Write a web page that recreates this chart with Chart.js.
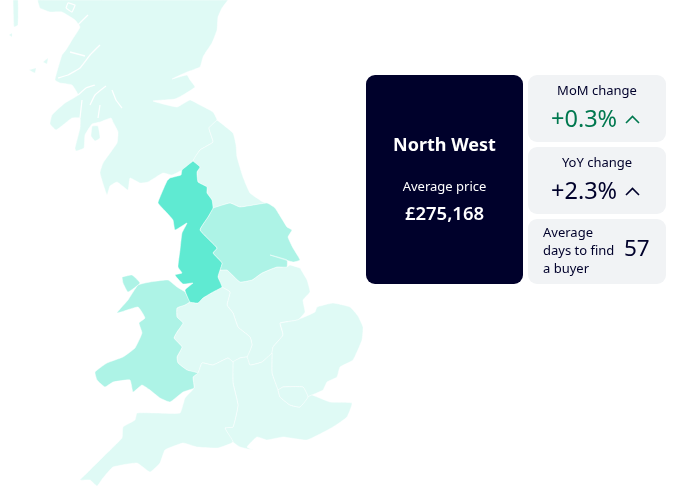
<!DOCTYPE html>
<html><head><meta charset="utf-8">
<script src="https://cdn.jsdelivr.net/npm/chart.js@4"></script>
<style>
html,body{margin:0;padding:0;width:698px;height:504px;overflow:hidden;background:#fff;font-family:"Noto Sans",sans-serif;color:#00012b}
canvas{position:absolute;left:0;top:0}
.card{position:absolute;border-radius:9px;background:#f1f3f5}
.dark{background:#00012b;color:#fff}
.t{position:absolute;left:0;right:0;text-align:center;white-space:nowrap}
svg{position:absolute}
</style></head><body>
<canvas id="c" width="698" height="504"></canvas>
<div class="card dark" style="left:366px;top:75px;width:157px;height:209px">
 <div class="t" style="top:56px;font-size:18px;font-weight:700;line-height:26px">North West</div>
 <div class="t" style="top:102px;font-size:13px;line-height:18px">Average price</div>
 <div class="t" style="top:126px;font-size:18.5px;font-weight:600;line-height:24px">£275,168</div>
</div>
<div class="card" style="left:528px;top:75px;width:138px;height:67px">
 <div class="t" style="top:6px;font-size:13px;line-height:18px">MoM change</div>
 <div class="t" style="top:27px;left:23px;right:auto;font-size:23.5px;line-height:32px;color:#00784f">+0.3%</div>
 <svg style="left:97px;top:39px" width="15" height="10"><path d="M1 9 L7.5 2.5 L14 9" fill="none" stroke="#00784f" stroke-width="1.6"/></svg>
</div>
<div class="card" style="left:528px;top:147px;width:138px;height:67px">
 <div class="t" style="top:6px;font-size:13px;line-height:18px">YoY change</div>
 <div class="t" style="top:27px;left:23px;right:auto;font-size:23.5px;line-height:32px">+2.3%</div>
 <svg style="left:97px;top:39px" width="15" height="10"><path d="M1 9 L7.5 2.5 L14 9" fill="none" stroke="#00012b" stroke-width="1.6"/></svg>
</div>
<div class="card" style="left:528px;top:219px;width:138px;height:65px">
 <div class="t" style="top:4px;left:15px;right:auto;text-align:left;font-size:13px;line-height:18px">Average<br>days to find<br>a buyer</div>
 <div class="t" style="top:13px;left:96px;right:auto;font-size:22.5px;line-height:32px">57</div>
</div>
<script>
const shadeLight="#dffaf5", shadeMid="#adf3e6", shadeDark="#5fead2";
const scotland=[[228,0],[222,8],[218,17],[217,30],[212,43],[206,52],[203,57],[200,67],[187,72],[172,79],[187,75],[190,80],[195,87],[183,95],[175,99],[153,101],[177,107],[190,100],[200,105],[213,112],[217,120],[209,128],[213,142],[200,150],[193,161],[182,170],[172,175],[163,173],[148,182],[140,183],[130,178],[128,190],[117,182],[110,186],[107,195],[100,173],[103,163],[117,143],[118,132],[113,122],[111,118],[100,122],[92,124],[85,135],[84,148],[76,151],[75,148],[80,128],[80,118],[72,118],[63,125],[56,130],[50,124],[52,115],[65,103],[78,95],[72,85],[60,83],[55,80],[58,68],[62,55],[66,50],[72,40],[80,27],[75,20],[62,12],[50,12],[40,8],[38,0]];
const northEast=[[217,120],[233,133],[236,145],[237,157],[243,177],[250,193],[263,202],[267,203],[240,207],[230,203],[213,208],[212,200],[207,193],[207,187],[198,182],[197,172],[200,167],[193,161],[200,150],[213,142],[209,128]];
const northWest=[[193,161],[182,170],[181,175],[170,178],[167,181],[160,197],[158,203],[167,213],[173,220],[175,230],[187,223],[182,233],[180,250],[178,267],[182,273],[175,275],[183,284],[193,283],[185,290],[190,302],[198,303],[203,298],[213,292],[222,287],[218,277],[220,270],[222,263],[213,253],[217,248],[200,230],[208,217],[213,208],[212,200],[207,193],[207,187],[198,182],[197,172],[200,167]];
const yorkshire=[[213,208],[230,203],[240,207],[267,203],[275,208],[287,227],[292,230],[288,237],[293,248],[300,260],[293,262],[270,255],[287,260],[287,267],[277,267],[262,273],[252,280],[240,282],[227,270],[220,270],[222,263],[213,253],[217,248],[200,230],[208,217]];
const eastMidlands=[[300,268],[307,280],[310,292],[303,300],[305,312],[298,320],[280,323],[283,335],[273,347],[272,353],[262,362],[250,365],[247,357],[252,345],[250,337],[238,327],[233,313],[227,305],[230,292],[222,287],[218,277],[220,270],[227,270],[240,282],[252,280],[262,273],[277,267],[287,267],[290,265]];
const westMidlands=[[222,287],[230,292],[227,305],[233,313],[238,327],[250,337],[252,345],[247,357],[240,358],[233,362],[228,358],[213,365],[202,363],[198,373],[187,370],[178,363],[177,357],[182,347],[174,338],[177,332],[183,323],[177,317],[177,308],[185,305],[190,302],[198,303],[203,298],[213,292]];
const wales=[[190,302],[185,305],[177,308],[177,317],[183,323],[177,332],[174,338],[182,347],[177,357],[178,363],[187,370],[198,373],[193,377],[194,388],[183,392],[170,402],[160,398],[150,390],[142,385],[133,392],[130,380],[113,382],[105,387],[97,380],[95,372],[107,363],[123,357],[135,348],[142,333],[139,323],[145,318],[138,307],[117,313],[128,300],[138,285],[150,282],[168,280],[177,287],[185,292]];
const anglesey=[[122,277],[132,275],[140,283],[128,292],[123,283]];
const eastEngland=[[280,323],[297,320],[315,312],[317,307],[333,303],[350,307],[358,316],[363,327],[362,340],[353,360],[340,367],[337,377],[327,382],[323,390],[312,395],[308,397],[303,387],[283,387],[278,390],[272,373],[272,353],[273,347],[283,335]];
const london=[[278,390],[283,387],[303,387],[308,397],[300,407],[290,405],[280,397]];
const southEast=[[272,353],[272,373],[278,390],[280,397],[290,405],[300,407],[308,397],[312,395],[330,402],[352,403],[347,417],[333,427],[307,440],[283,437],[267,440],[257,437],[247,447],[253,450],[240,447],[233,442],[225,428],[233,427],[238,405],[233,383],[233,362],[240,358],[247,357],[250,365],[262,362]];
const southWest=[[233,362],[233,383],[238,405],[233,427],[225,428],[233,442],[218,448],[197,447],[183,443],[165,450],[160,463],[150,472],[137,463],[113,467],[103,478],[97,486],[90,480],[80,480],[87,473],[103,457],[122,438],[123,427],[135,420],[137,413],[157,413],[180,413],[185,398],[194,388],[193,377],[198,373],[202,363],[213,365],[228,358]];
const islandA=[[13,0],[18,0],[18,25],[14,27]];
const islandB=[[9,35],[12,33],[12,37]];
const islandC=[[43,62],[48,58],[47,64]];
const islandD=[[29,70],[36,68],[35,73]];
const arran=[[92,126],[98,126],[100,138],[95,141],[91,136]];
const lochs=[
 [[100,45],[90,55],[80,68],[68,75],[58,78]],
 [[88,15],[78,25],[73,35]],
 [[70,52],[85,56]],
 [[106,86],[95,95],[90,105]],
 [[112,90],[116,100],[122,108]],
 [[100,105],[98,118]],
 [[82,100],[80,118]],
 [[66,8],[72,12],[75,5],[68,3],[66,8]],
 [[78,95],[86,88],[95,85]]
];
const shapes=[[northWest,shadeDark],[anglesey,shadeMid],[wales,shadeMid],[yorkshire,shadeMid],[london,shadeLight],[southWest,shadeLight],[southEast,shadeLight],[eastEngland,shadeLight],[westMidlands,shadeLight],[eastMidlands,shadeLight],[northEast,shadeLight],[arran,shadeLight],[islandD,shadeLight],[islandC,shadeLight],[islandB,shadeLight],[islandA,shadeLight],[scotland,shadeLight]];
const toPoints=pts=>pts.map(p=>({x:p[0],y:p[1]}));
new Chart(document.getElementById("c"),{
 type:"scatter",
 data:{datasets:[
  ...lochs.map(pts=>({data:toPoints(pts),showLine:true,fill:false,borderColor:"rgba(255,255,255,0.95)",borderWidth:1.3,pointRadius:0,tension:0.1})),
  ...shapes.map(([pts,col])=>({data:toPoints(pts.concat([pts[0]])),showLine:true,fill:"shape",backgroundColor:col,borderColor:"rgba(255,255,255,0.8)",borderWidth:0.6,pointRadius:0,tension:0.12}))
 ]},
 options:{responsive:false,animation:false,events:[],layout:{padding:0},
  plugins:{legend:{display:false},tooltip:{enabled:false},title:{display:false}},
  scales:{x:{type:"linear",display:false,min:0,max:698},y:{type:"linear",display:false,min:0,max:504,reverse:true}}}
});
</script>
</body></html>
